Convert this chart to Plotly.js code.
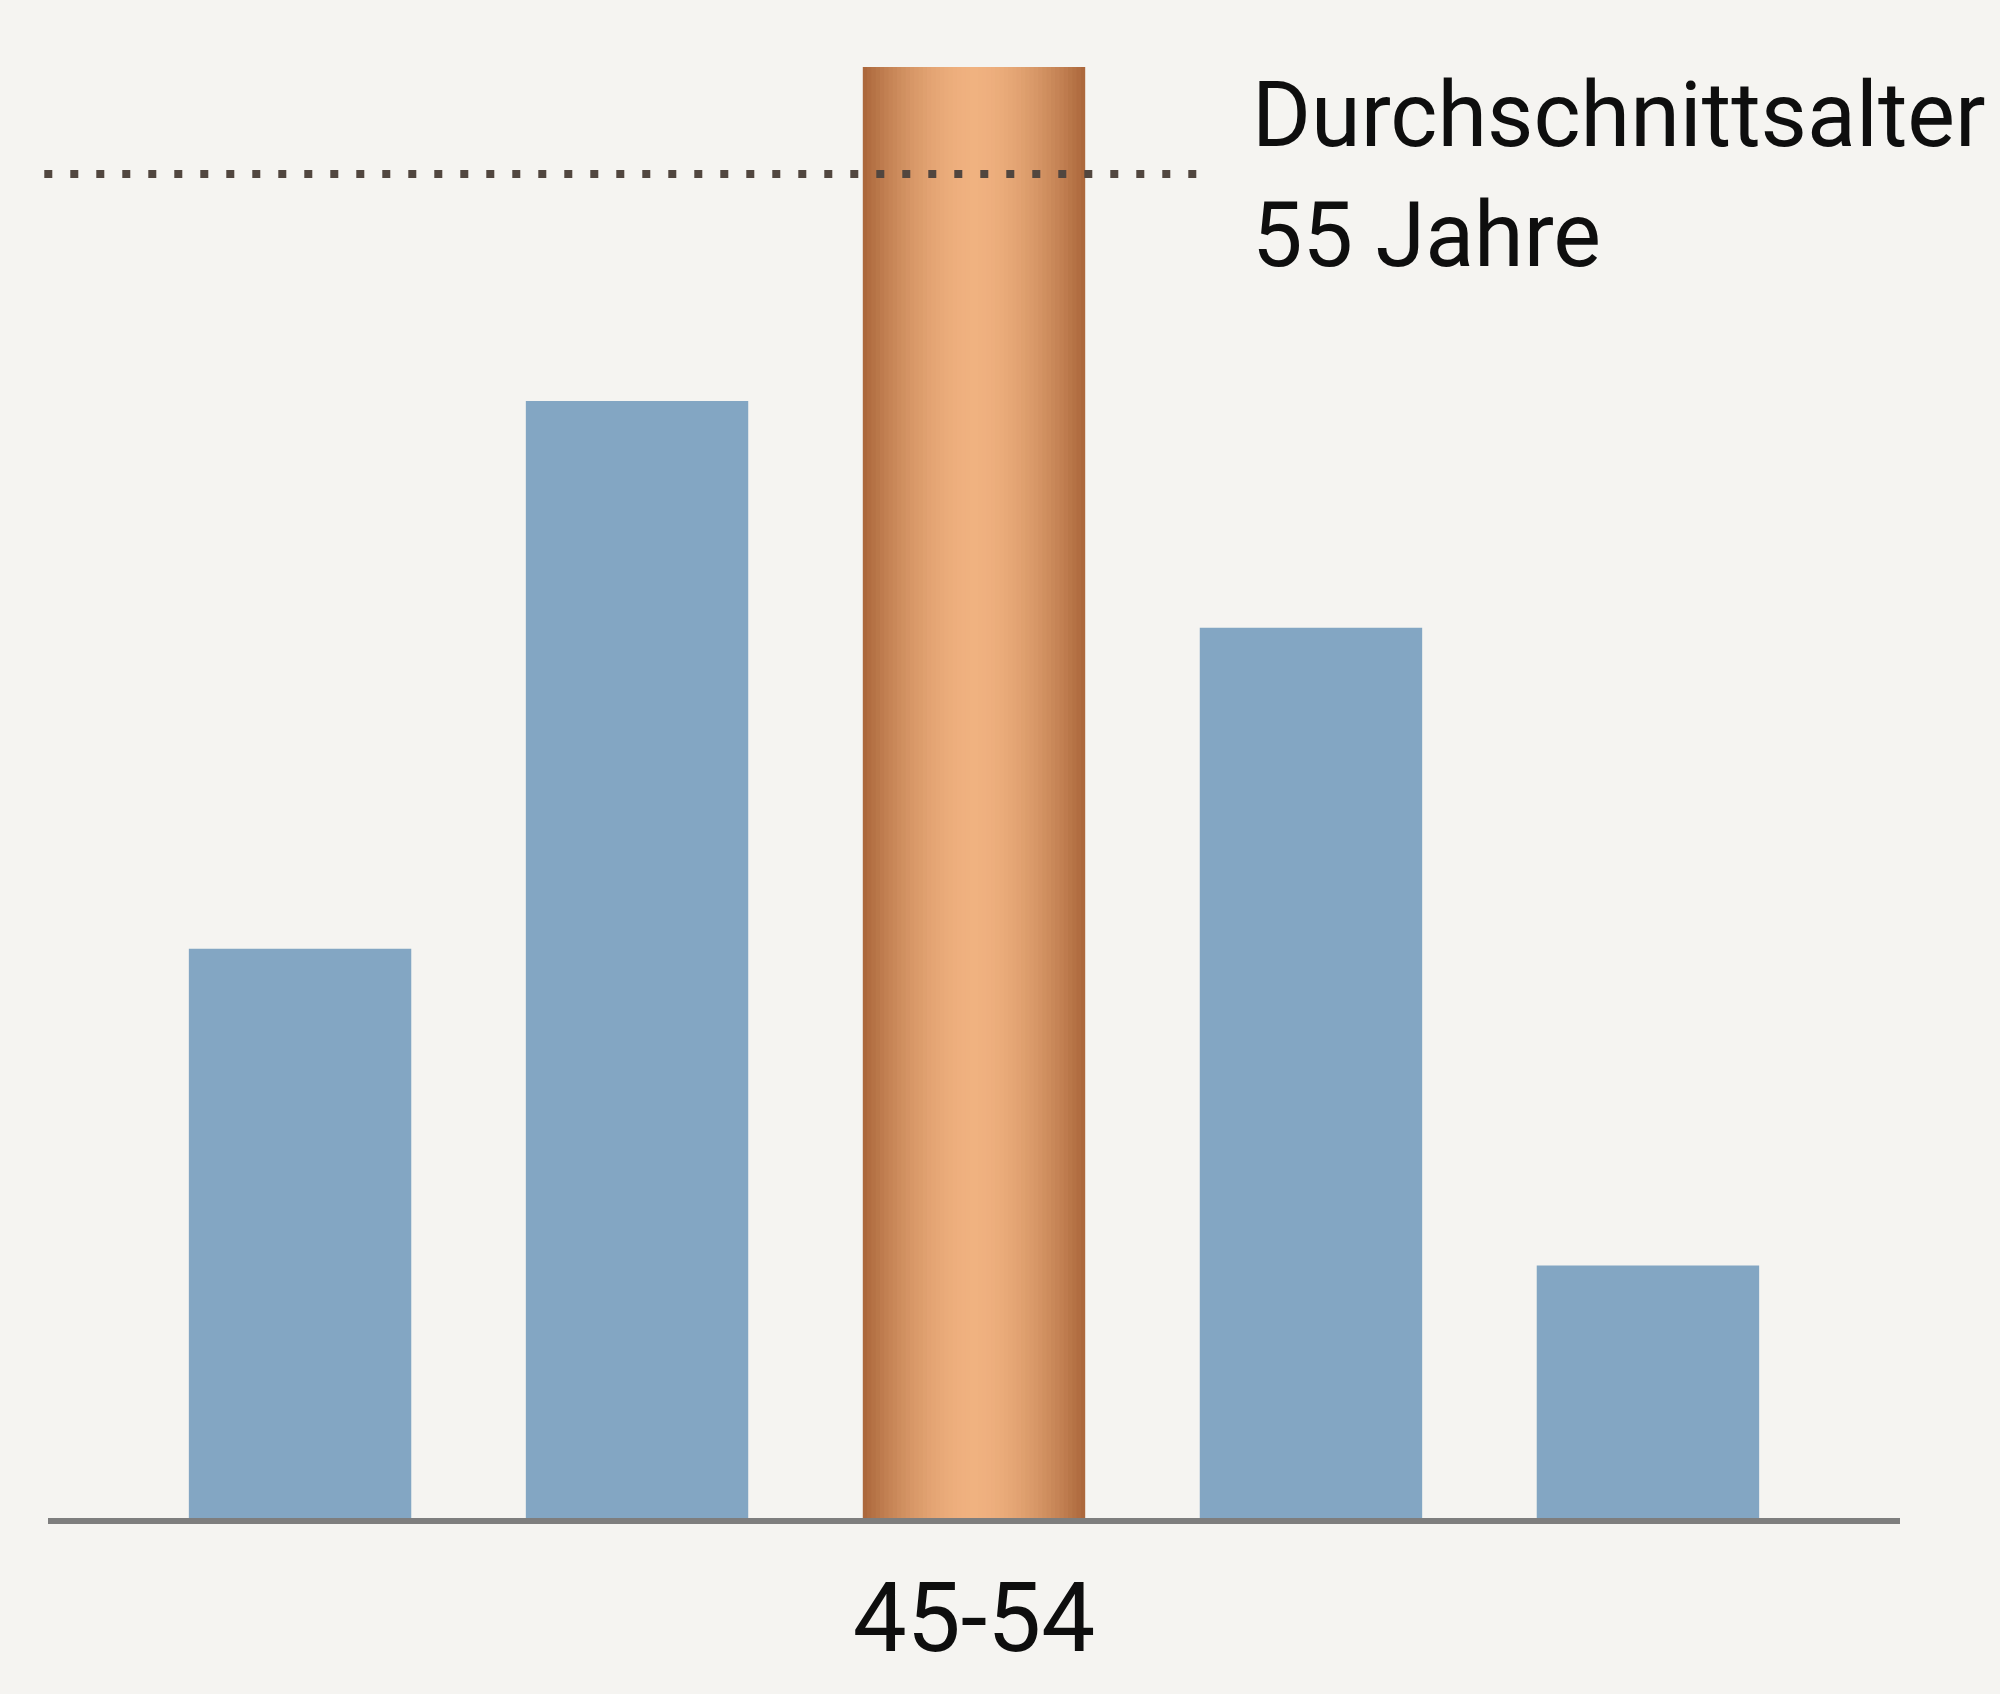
<!DOCTYPE html>
<html>
<head>
<meta charset="utf-8">
<script src="https://cdn.plot.ly/plotly-3.0.1.min.js"></script>
<style>
html,body{margin:0;padding:0;background:#F5F4F1;}
#chart{width:2000px;height:1694px;}
</style>
</head>
<body>
<div id="chart"></div>
<script>
// ---- data ----
const categories = ["unter 35", "35-44", "45-54", "55-64", "65+"];
const shares = [13.3, 26.1, 33.9, 20.8, 5.9];   // Anteil in %
const highlightCategory = "45-54";
const shownTickLabels = ["45-54"];
const averageLevel = 31.4;                       // Höhe der gepunkteten Linie
const averageLabelLine1 = "Durchschnittsalter";
const averageLabelLine2 = "55 Jahre";

// ---- styles ----
const blue = "#83A6C3";
const copperEdge = [172, 104, 60];
const copperCenter = [240, 178, 128];
const barWidth = 0.66;
const layers = 26;

const hiIdx = categories.indexOf(highlightCategory);
const baseColors = categories.map((c, i) => i === hiIdx ? "rgb(" + copperEdge.join(",") + ")" : blue);

const traces = [{
  type: "bar",
  x: categories,
  y: shares,
  width: barWidth,
  marker: {color: baseColors, line: {width: 0}},
  hoverinfo: "skip"
}];

// copper cylinder: nested overlay bars of the highlighted category
for (let k = 1; k < layers; k++) {
  const r = 1 - k / layers;                // relative half-width
  const f = 1 - Math.pow(r, 1.8);          // soft shading towards the centre
  const col = copperEdge.map((e, j) => Math.round(e + (copperCenter[j] - e) * f));
  traces.push({
    type: "bar",
    x: [highlightCategory],
    y: [shares[hiIdx]],
    width: barWidth * r,
    marker: {color: "rgb(" + col.join(",") + ")", line: {width: 0}},
    hoverinfo: "skip"
  });
}

const font = "Roboto, 'Noto Sans', sans-serif";

const layout = {
  width: 2000,
  height: 1694,
  paper_bgcolor: "#F5F4F1",
  plot_bgcolor: "#F5F4F1",
  margin: {l: 48, r: 100, t: 20, b: 176},
  barmode: "overlay",
  showlegend: false,
  xaxis: {
    type: "category",
    categoryorder: "array",
    categoryarray: categories,
    range: [-0.748, 4.748],
    showgrid: false,
    zeroline: false,
    showline: true,
    linecolor: "#7E7E7E",
    linewidth: 6,
    ticks: "",
    tickmode: "array",
    tickvals: shownTickLabels,
    ticktext: shownTickLabels,
    ticklabelstandoff: 12,
    tickfont: {family: font, size: 96, color: "#0E0E0E"}
  },
  yaxis: {
    range: [0, 35],
    visible: false,
    showgrid: false,
    zeroline: false,
    fixedrange: true
  },
  shapes: [{
    type: "line",
    xref: "paper", yref: "y",
    x0: -0.002, x1: 0.622,
    y0: averageLevel, y1: averageLevel,
    layer: "above",
    line: {color: "#51463F", width: 8, dash: "8px,18px"}
  }],
  annotations: [
    {
      xref: "paper", yref: "paper",
      x: 0.649, y: 0.936,
      xanchor: "left", yanchor: "middle",
      text: averageLabelLine1,
      showarrow: false,
      font: {family: font, size: 90, color: "#0E0E0E"}
    },
    {
      xref: "paper", yref: "paper",
      x: 0.649, y: 0.856,
      xanchor: "left", yanchor: "middle",
      text: averageLabelLine2,
      showarrow: false,
      font: {family: font, size: 90, color: "#0E0E0E"}
    }
  ]
};

Plotly.newPlot("chart", traces, layout, {staticPlot: true, displayModeBar: false});
</script>
</body>
</html>
